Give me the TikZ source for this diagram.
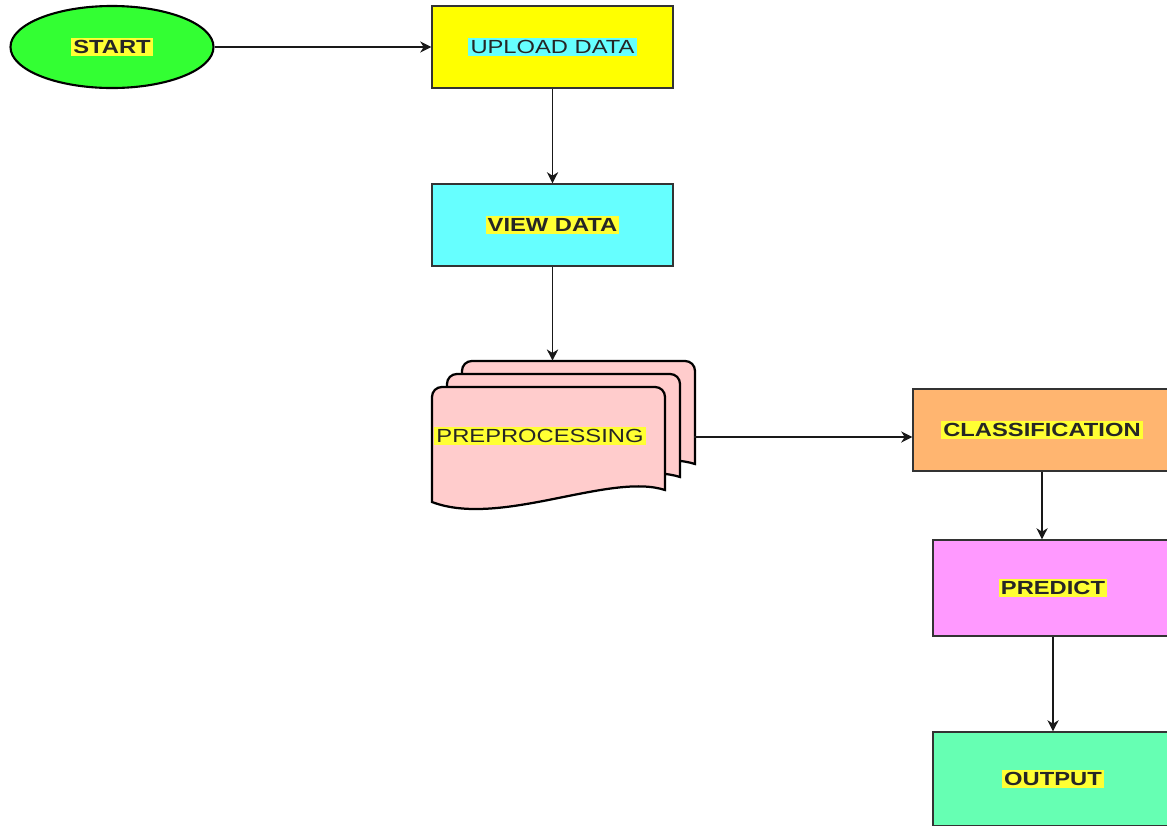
\documentclass[tikz,border=0pt]{standalone}
\usepackage{fontspec}
\newfontfamily\lblfont{Liberation Sans}[FakeStretch=1.25]
\usetikzlibrary{shapes}
\usetikzlibrary{arrows.meta}
\definecolor{startgreen}{HTML}{33FF33}
\definecolor{uploadyellow}{HTML}{FFFF00}
\definecolor{viewcyan}{HTML}{66FFFF}
\definecolor{sheetpink}{HTML}{FFCCCC}
\definecolor{classorange}{HTML}{FFB570}
\definecolor{predictpink}{HTML}{FF99FF}
\definecolor{outputmint}{HTML}{66FFB3}
\definecolor{hlyellow}{HTML}{FFFF33}
\definecolor{hlcyan}{HTML}{66FFFF}
\newcommand{\hilite}[2][hlyellow]{{\setlength{\fboxsep}{1.5pt}\colorbox{#1}{#2}}}
\tikzset{
    Box/.style = {rectangle, draw=black!80, line width=0.8pt, minimum width=6.025cm, minimum height=2.05cm, inner sep=0pt}
}
\tikzset{
    Edge/.style = {draw=black!90, line width=1pt, -{Stealth[length=8pt,width=8pt,inset=2.5pt]}}
}

\begin{document}
\begin{tikzpicture}[
    x=0.025cm, y=-0.025cm,
    font=\lblfont\fontsize{13.5pt}{16pt}\selectfont,
    text=black!85
]
\tikzset{
    mysheet/.style = {draw=black, line width=1.6pt, fill=sheetpink},
}
\clip (0,0) rectangle (1167,825);
\node[ellipse, draw=black, line width=1.5pt, fill=startgreen, minimum width=5.075cm, minimum height=2.05cm] at (112,47) (start) {\bfseries\hilite{START}};
\node[Box, fill=uploadyellow] at (552.5,47) (upload) {\hilite[hlcyan]{UPLOAD DATA}};
\node[Box, fill=viewcyan] at (552.5,225) (view) {\bfseries\hilite{VIEW DATA}};
% stacked sheets, back to front
\foreach \dx/\dy in {30/-26, 15/-13, 0/0} {
    \draw[mysheet, shift={(\dx,\dy)}] (432,502) [rounded corners=7pt] -- (432,387) -- (665,387) -- (665,440)
        [sharp corners] -- (665,490) .. controls (610,472) and (500,528) .. (432,502) -- cycle;
}
\node[inner sep=0pt, minimum width=6.55cm, minimum height=3.8cm] at (563,437) (pre) {};
\node at (540,436) (pretext) {\hilite{PREPROCESSING}};
\node[Box, fill=classorange, minimum width=6.45cm] at (1042,430) (class) {\bfseries\hilite{CLASSIFICATION}};
\node[Box, fill=predictpink, minimum width=6cm, minimum height=2.4cm] at (1053,588) (predict) {\bfseries\hilite{PREDICT}};
\node[Box, fill=outputmint, minimum width=6cm, minimum height=2.35cm] at (1053,779) (output) {\bfseries\hilite{OUTPUT}};
\path (start) edge [Edge] (upload);
\path (upload) edge [Edge] (view);
\path (view) edge [Edge] (view |- pre.north);
\path (pre.east) edge [Edge] (pre.east -| class.west);
\path (class.south) edge [Edge] (class.south |- predict.north);
\path (predict) edge [Edge] (output);
\end{tikzpicture}
\end{document}
